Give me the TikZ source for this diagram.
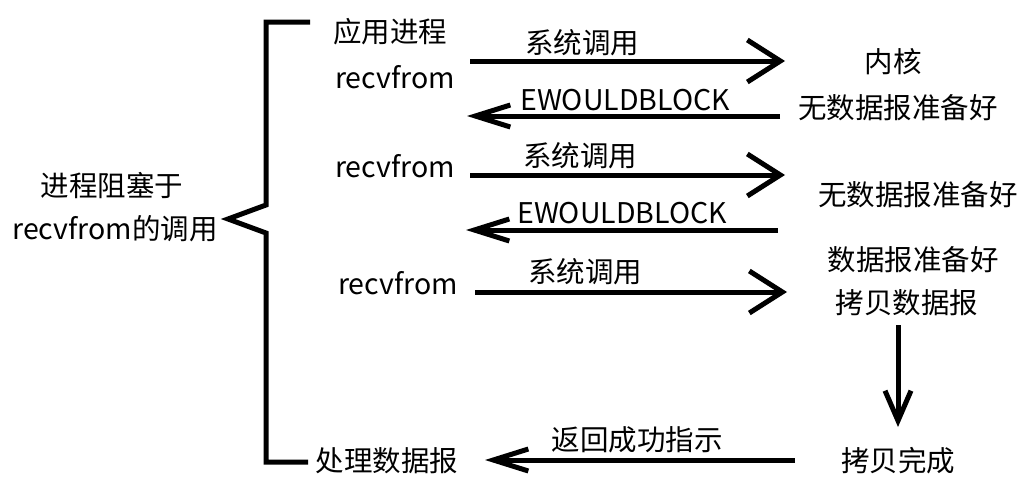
\documentclass[tikz,border=0pt]{standalone}
\usepackage{fontspec}
\setmainfont{Noto Sans CJK SC}
\usetikzlibrary{arrows.meta}
\begin{document}
\begin{tikzpicture}[x=1pt,y=-1pt,
  txt/.style={font=\fontsize{28.5}{32}\selectfont, inner sep=0pt},
  ln/.style={line width=5pt},
  rarr/.style={ln, -{Straight Barb[length=33pt,width=42pt]}},
  larr/.style={ln, -{Straight Barb[length=35pt,width=22pt]}},
  darr/.style={ln, -{Straight Barb[length=30pt,width=26pt]}}]
\path[use as bounding box] (0,0) rectangle (1022,490);
% bracket
\draw[ln, line join=miter] (310,22) -- (266,22) -- (266,205) -- (228,219) -- (266,233) -- (266,462) -- (308,462);
% left labels
\node[txt] (blk1) at (112,186) {进程阻塞于};
\node[txt] (blk2) at (115,229) {recvfrom的调用};
% process side
\node[txt] (app) at (390,32) {应用进程};
\node[txt] (r1) at (395,77) {recvfrom};
\node[txt] (r2) at (395,166) {recvfrom};
\node[txt] (r3) at (398,283) {recvfrom};
\node[txt] (proc) at (387,461) {处理数据报};
% kernel side
\node[txt] (kern) at (893,62) {内核};
\node[txt] (k1) at (898,108) {无数据报准备好};
\node[txt] (k2) at (918,195) {无数据报准备好};
\node[txt] (k3) at (913,260) {数据报准备好};
\node[txt] (k4) at (907,303) {拷贝数据报};
\node[txt] (k5) at (898,461) {拷贝完成};
% coordinates for arrows
\coordinate (a1s) at (470,61);  \coordinate (a1e) at (785,61);
\coordinate (a2s) at (780,116); \coordinate (a2e) at (467,116);
\coordinate (a3s) at (470,175); \coordinate (a3e) at (785,175);
\coordinate (a4s) at (778,230); \coordinate (a4e) at (466,230);
\coordinate (a5s) at (475,292); \coordinate (a5e) at (787,292);
\coordinate (a6s) at (795,460); \coordinate (a6e) at (485,460);
\coordinate (dt) at (898,325);
\coordinate (dn) at (898,427);
% arrows
\draw[rarr] (a1s) -- (a1e);
\draw[larr] (a2s) -- (a2e);
\draw[rarr] (a3s) -- (a3e);
\draw[larr] (a4s) -- (a4e);
\draw[rarr] (a5s) -- (a5e);
\draw[larr] (a6s) -- (a6e);
\draw[darr] (dt) -- (dn);
% arrow labels
\node[txt] at (582,43) {系统调用};
\node[txt] at (625,100) {EWOULDBLOCK};
\node[txt] at (580,156) {系统调用};
\node[txt] at (622,213) {EWOULDBLOCK};
\node[txt] at (585,272) {系统调用};
\node[txt] at (637,440) {返回成功指示};
\end{tikzpicture}
\end{document}
